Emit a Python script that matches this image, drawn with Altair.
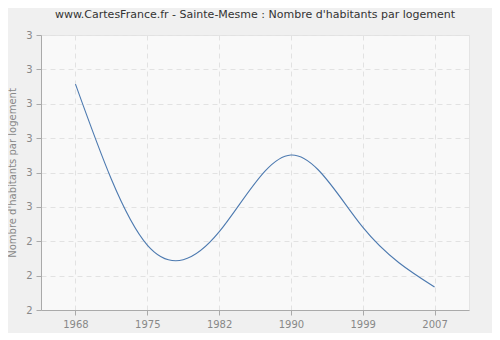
import altair as alt
import pandas as pd

years = ["1968", "1975", "1982", "1990", "1999", "2007"]
values = [2.857, 2.389, 2.427, 2.651, 2.441, 2.267]
y_ticks = [2.2, 2.3, 2.4, 2.5, 2.6, 2.7, 2.8, 2.9, 3.0]

df = pd.DataFrame({"year": years, "value": values})

chart = alt.Chart(df).mark_line(
    interpolate="natural", color="#4d7ab0", strokeWidth=1.1, clip=True
).encode(
    x=alt.X("year:O", sort=years, title=None,
            scale=alt.Scale(type="point", padding=0.48),
            axis=alt.Axis(labelAngle=0, grid=True, gridDash=[5, 4], gridColor="#e2e2e2",
                          domainColor="#aaaaaa", tickColor="#aaaaaa", tickSize=5,
                          labelColor="#888888", labelFontSize=10, labelPadding=4,
                          labelFont="DejaVu Sans")),
    y=alt.Y("value:Q", title="Nombre d'habitants par logement",
            scale=alt.Scale(domain=[2.2, 3.0], nice=False, zero=False),
            axis=alt.Axis(values=y_ticks, format=".0f", grid=True, gridDash=[5, 4],
                          gridColor="#e2e2e2", domainColor="#aaaaaa", tickColor="#aaaaaa",
                          tickSize=5, labelColor="#888888", labelFontSize=10,
                          labelPadding=4, labelFont="DejaVu Sans",
                          titleColor="#888888", titleFontSize=10, titleFontWeight="normal",
                          titleFont="DejaVu Sans", titlePadding=8)),
).properties(
    width=428, height=275,
    title=alt.TitleParams("www.CartesFrance.fr - Sainte-Mesme : Nombre d'habitants par logement",
                          font="DejaVu Sans", fontSize=11, fontWeight="normal",
                          color="#333333", offset=10),
    autosize=alt.AutoSizeParams(type="none"),
    padding={"left": 33, "top": 27, "right": 23, "bottom": 23},
    background="#f0f0f0",
).configure_view(
    fill="#f9f9f9", stroke="#e4e4e4", strokeWidth=1
)

chart.save("out.html", embed_options={"renderer": "svg", "actions": False})
